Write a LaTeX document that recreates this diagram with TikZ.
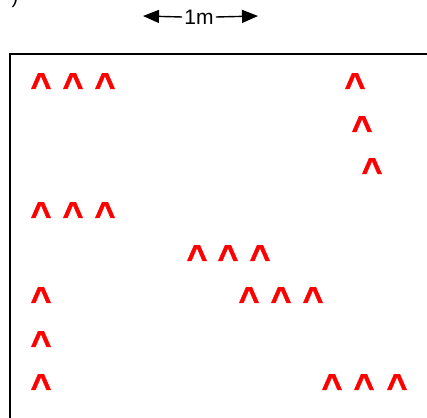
\documentclass[tikz,border=0pt]{standalone}
\usepackage{fontspec}
\setmainfont{Liberation Sans}
\newfontfamily\caretfont[FakeBold=1.2]{Liberation Sans Bold}
\usepackage{xcolor}
\usepackage{tikz}
\usetikzlibrary{arrows.meta, positioning}

\begin{document}
\begin{tikzpicture}[
    x=1pt, y=-1pt,
    caret/.style={text=red, font=\fontsize{36}{36}\selectfont\caretfont, inner sep=0pt, anchor=base},
    scalelabel/.style={font=\fontsize{21}{21}\selectfont, inner sep=2pt},
    scalearrow/.style={line width=1.4pt, -{Triangle[length=16pt, width=13pt]}},
    field/.style={draw=black, line width=2pt}
]
    \useasboundingbox (0,0) rectangle (427,417);

    % Label
    \node[font=\fontsize{20}{20}\selectfont, inner sep=0pt, anchor=base] (tag) at (15,4) {)};

    % Scale
    \node[scalelabel] (scale) at (199,17) {1m};
    \coordinate (sleft) at (143,16);
    \coordinate (sright) at (258,16);
    \draw[scalearrow] (scale.west) -- (sleft);
    \draw[scalearrow] (scale.east) -- (sright);

    % Field
    \draw[field] (9.5,440) -- (9.5,54) -- (440,54);

    % Row 1
    \node[caret] (r1a) at (41,98) {\textasciicircum};
    \node[caret] (r1b) at (73,98) {\textasciicircum};
    \node[caret] (r1c) at (105,98) {\textasciicircum};
    \node[caret] (r1d) at (355,98) {\textasciicircum};

    % Rows 2, 3
    \node[caret] (r2a) at (362,141) {\textasciicircum};
    \node[caret] (r3a) at (372,183) {\textasciicircum};

    % Row 4
    \node[caret] (r4a) at (41,227) {\textasciicircum};
    \node[caret] (r4b) at (73,227) {\textasciicircum};
    \node[caret] (r4c) at (105,227) {\textasciicircum};

    % Row 5
    \node[caret] (r5a) at (197,270) {\textasciicircum};
    \node[caret] (r5b) at (228,270) {\textasciicircum};
    \node[caret] (r5c) at (260,270) {\textasciicircum};

    % Row 6
    \node[caret] (r6a) at (41,312) {\textasciicircum};
    \node[caret] (r6b) at (249,312) {\textasciicircum};
    \node[caret] (r6c) at (281,312) {\textasciicircum};
    \node[caret] (r6d) at (313,312) {\textasciicircum};

    % Rows 7, 8
    \node[caret] (r7a) at (41,356) {\textasciicircum};
    \node[caret] (r8a) at (41,399) {\textasciicircum};
    \node[caret] (r8b) at (332,399) {\textasciicircum};
    \node[caret] (r8c) at (364,399) {\textasciicircum};
    \node[caret] (r8d) at (397,399) {\textasciicircum};
\end{tikzpicture}
\end{document}
